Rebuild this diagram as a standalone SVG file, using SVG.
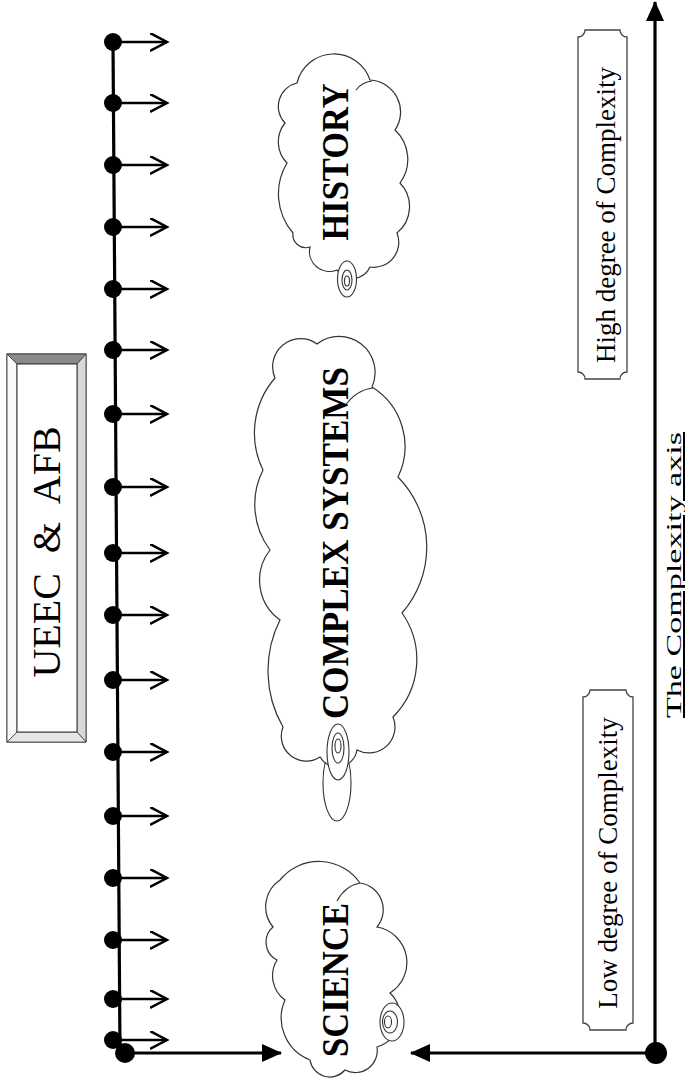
<svg xmlns="http://www.w3.org/2000/svg" width="685" height="1079" viewBox="0 0 685 1079">
<style>
.cloud{fill:#fff;stroke:#333;stroke-width:1.2}
.inner{fill:none;stroke:#333;stroke-width:1.2}
.tail{fill:#fff;stroke:#333;stroke-width:1.1}
.ctext{font-family:"Liberation Serif","Times New Roman",serif;font-weight:bold;font-size:38px;fill:#000}
.ltext{font-family:"Liberation Serif","Times New Roman",serif;font-size:27px;fill:#000}
.plaque{fill:#fff;stroke:#444;stroke-width:1.3}
.dot{fill:#000}
.tick{stroke:#000;stroke-width:2.5;fill:none}
.axis{stroke:#000;stroke-width:3.2;fill:none}
</style>
<defs>
<marker id="open" markerWidth="20" markerHeight="20" refX="17" refY="9" orient="auto" markerUnits="userSpaceOnUse">
<path d="M0,0 L17,9 L0,18" fill="none" stroke="#000" stroke-width="2.5"/>
</marker>
<marker id="solid" markerWidth="20" markerHeight="18" refX="19" refY="9" orient="auto" markerUnits="userSpaceOnUse">
<path d="M0,0 L20,9 L0,18 Z" fill="#000"/>
</marker>
</defs>
<rect width="685" height="1079" fill="#fff"/>

<g id="connectors">
<line class="axis" x1="113" y1="42" x2="120" y2="1053"/>
<g class="tick">
<line x1="113" y1="42" x2="167" y2="42" marker-end="url(#open)"/>
<line x1="113" y1="103" x2="167" y2="103" marker-end="url(#open)"/>
<line x1="113" y1="165" x2="167" y2="165" marker-end="url(#open)"/>
<line x1="113" y1="227" x2="167" y2="227" marker-end="url(#open)"/>
<line x1="113" y1="289" x2="167" y2="289" marker-end="url(#open)"/>
<line x1="113" y1="350" x2="167" y2="350" marker-end="url(#open)"/>
<line x1="113" y1="414" x2="167" y2="414" marker-end="url(#open)"/>
<line x1="113" y1="487" x2="167" y2="487" marker-end="url(#open)"/>
<line x1="113" y1="553" x2="167" y2="553" marker-end="url(#open)"/>
<line x1="113" y1="615" x2="167" y2="615" marker-end="url(#open)"/>
<line x1="113" y1="680" x2="167" y2="680" marker-end="url(#open)"/>
<line x1="113" y1="752" x2="167" y2="752" marker-end="url(#open)"/>
<line x1="113" y1="816" x2="167" y2="816" marker-end="url(#open)"/>
<line x1="113" y1="878" x2="167" y2="878" marker-end="url(#open)"/>
<line x1="113" y1="940" x2="167" y2="940" marker-end="url(#open)"/>
<line x1="113" y1="999" x2="167" y2="999" marker-end="url(#open)"/>
<line x1="113" y1="1040" x2="167" y2="1040" marker-end="url(#open)"/>
</g>
<g class="dot">
<circle cx="113" cy="42" r="9"/><circle cx="113" cy="103" r="9"/><circle cx="113" cy="165" r="9"/>
<circle cx="113" cy="227" r="9"/><circle cx="113" cy="289" r="9"/><circle cx="113" cy="350" r="9"/>
<circle cx="113" cy="414" r="9"/><circle cx="113" cy="487" r="9"/><circle cx="113" cy="553" r="9"/>
<circle cx="113" cy="615" r="9"/><circle cx="113" cy="680" r="9"/><circle cx="113" cy="752" r="9"/>
<circle cx="113" cy="816" r="9"/><circle cx="113" cy="878" r="9"/><circle cx="113" cy="940" r="9"/>
<circle cx="113" cy="999" r="9"/><circle cx="113" cy="1040" r="9"/>
<circle cx="125" cy="1053" r="10"/>
</g>
<line class="axis" x1="125" y1="1053" x2="281" y2="1053" marker-end="url(#solid)"/>
<line class="axis" x1="655" y1="1053" x2="411" y2="1053" marker-end="url(#solid)"/>
<line class="axis" x1="655" y1="1053" x2="655" y2="2" marker-end="url(#solid)"/>
<circle class="dot" cx="656" cy="1053" r="11"/>
</g>

<g id="ueec">
<rect x="7" y="354" width="79" height="388" fill="#fff" stroke="#333" stroke-width="1"/>
<polygon points="7,354 86,354 77,364 17,364" fill="#8a8a8a" stroke="#333" stroke-width="0.8"/>
<polygon points="86,354 86,742 77,732 77,364" fill="#d8d8d8" stroke="#333" stroke-width="0.8"/>
<polygon points="7,742 86,742 77,732 17,732" fill="#e6e6e6" stroke="#333" stroke-width="0.8"/>
<polygon points="7,354 17,364 17,732 7,742" fill="#fafafa" stroke="#333" stroke-width="0.8"/>
<rect x="17" y="364" width="60" height="368" fill="#fff" stroke="#333" stroke-width="1"/>
<text transform="translate(60,552) rotate(-90)" text-anchor="middle" xml:space="preserve" style="font-family:'Liberation Serif','Times New Roman',serif;font-size:40px">UEEC  &amp;  AFB</text>
</g>

<g id="history">
<path class="cloud" d="M285,123 A24 24 0 0 1 297,83 A38 38 0 0 1 370,80 A32 32 0 0 1 395,130 A40 40 0 0 1 400,183 A34 34 0 0 1 397,233 A25 25 0 0 1 370,267 A19 19 0 0 1 337,270 A20 20 0 0 1 310,247 A13 13 0 0 1 293,233 A60 60 0 0 1 287,163 A30 30 0 0 1 285,123 Z"/>
<path class="inner" d="M356,90 Q362,82 372,81"/>
<ellipse class="tail" cx="347" cy="279" rx="9.5" ry="18"/>
<ellipse class="tail" cx="347" cy="280" rx="5" ry="10"/>
<ellipse class="tail" cx="347" cy="281" rx="2.5" ry="5"/>
<text class="ctext" transform="translate(348,162) rotate(-90)" text-anchor="middle" textLength="157" lengthAdjust="spacingAndGlyphs">HISTORY</text>
</g>

<g id="complex">
<ellipse class="tail" cx="337" cy="783" rx="14" ry="38"/>
<path class="cloud" d="M275,378 A28 28 0 0 1 317,344 A36 36 0 0 1 372,387 A70 70 0 0 1 398,477 A100 100 0 0 1 402,613 A81 81 0 0 1 393,717 A26 26 0 0 1 357,750 A20 20 0 0 1 320,757 A25 25 0 0 1 283,727 A113 113 0 0 1 280,620 A49 49 0 0 1 270,550 A76 76 0 0 1 263,470 A84 84 0 0 1 275,378 Z"/>
<path class="inner" d="M345,406 Q356,390 373,388"/>
<ellipse class="tail" cx="338" cy="752" rx="11" ry="28"/>
<ellipse class="tail" cx="338" cy="748" rx="6" ry="15"/>
<ellipse class="tail" cx="338" cy="746" rx="3" ry="7"/>
<text class="ctext" transform="translate(348,543) rotate(-90)" text-anchor="middle" textLength="352" lengthAdjust="spacingAndGlyphs">COMPLEX SYSTEMS</text>
</g>

<g id="science">
<path class="cloud" d="M280,880 A50 50 0 0 1 360,883 A27 27 0 0 1 377,927 A36 36 0 0 1 390,993 A32 32 0 0 1 377,1047 A22 22 0 0 1 345,1070 A20 20 0 0 1 310,1060 A45 45 0 0 1 285,1000 A30 30 0 0 1 277,960 A20 20 0 0 1 273,927 A32 32 0 0 1 280,880 Z"/>
<path class="inner" d="M337,901 Q345,886 360,883"/>
<ellipse class="tail" cx="392" cy="1022" rx="12" ry="19"/>
<ellipse class="tail" cx="390" cy="1022" rx="7.5" ry="11"/>
<ellipse class="tail" cx="388" cy="1022" rx="3.5" ry="6"/>
<text class="ctext" transform="translate(348,980) rotate(-90)" text-anchor="middle" textLength="154" lengthAdjust="spacingAndGlyphs">SCIENCE</text>
</g>

<g id="high">
<path class="plaque" d="M585,30 H620 A7 7 0 0 0 627,37 V372 A7 7 0 0 0 620,379 H585 A7 7 0 0 0 578,372 V37 A7 7 0 0 0 585,30 Z"/>
<text class="ltext" transform="translate(615,215) rotate(-90)" text-anchor="middle">High degree of Complexity</text>
</g>

<g id="low">
<path class="plaque" d="M590,690 H626 A7 7 0 0 0 633,697 V1023 A7 7 0 0 0 626,1030 H590 A7 7 0 0 0 583,1023 V697 A7 7 0 0 0 590,690 Z"/>
<text class="ltext" transform="translate(617,863) rotate(-90)" text-anchor="middle">Low degree of Complexity</text>
</g>

<g id="axis-label">
<text transform="translate(681,575) rotate(-90)" text-anchor="middle" text-decoration="underline" textLength="286" lengthAdjust="spacingAndGlyphs" style="font-family:'Liberation Serif','Times New Roman',serif;font-size:21px">The Complexity axis</text>
</g>
</svg>
